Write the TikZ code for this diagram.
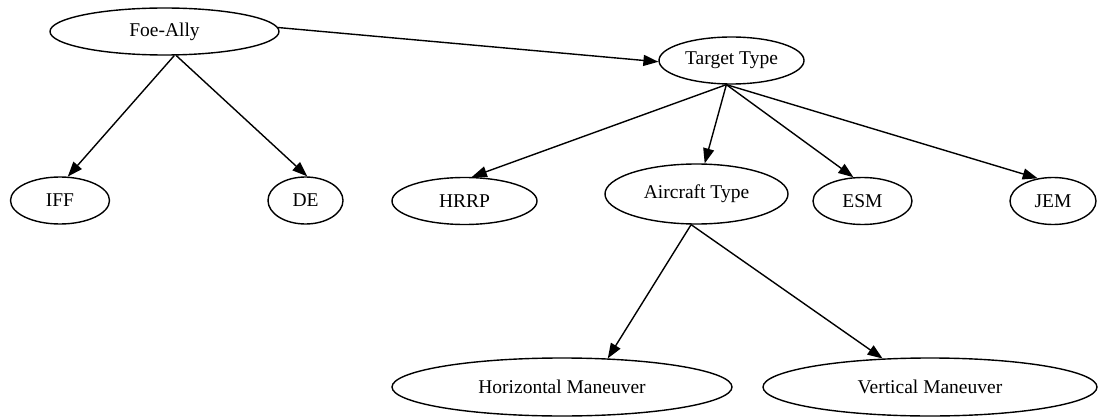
\documentclass[tikz,border=0pt]{standalone}
\usepackage{fontspec}
\setmainfont{Liberation Serif}
\usetikzlibrary{arrows.meta,shapes.geometric}

\begin{document}
\begin{tikzpicture}[x=1pt,y=-1pt,line width=1.4pt,
  feat/.style={draw,ellipse,inner sep=0pt,minimum height=47pt,
    font=\fontsize{19.5}{22}\selectfont},
  >={Triangle[length=15pt,width=11pt]}]
\useasboundingbox (0,0) rectangle (1100,417);
\node[feat,minimum width=229pt] (fa) at (164.5,31.5) {Foe-Ally};
\node[feat,minimum width=145pt] (tt) at (731.5,60.5) {Target Type};
\node[feat,minimum width=99pt] (iff) at (60,200.5) {IFF};
\node[feat,minimum width=75pt] (de) at (305.5,200.5) {DE};
\node[feat,minimum width=145pt] (hrrp) at (464.5,201) {HRRP};
\node[feat,minimum width=183pt,minimum height=60pt] (ac) at (696.5,194) {Aircraft Type};
\node[feat,minimum width=99pt] (esm) at (862.5,201) {ESM};
\node[feat,minimum width=86pt] (jem) at (1053,201) {JEM};
\node[feat,minimum width=340pt,minimum height=58pt] (hm) at (562,387) {Horizontal Maneuver};
\node[feat,minimum width=334pt,minimum height=58pt] (vm) at (930,387) {Vertical Maneuver};
\draw (fa.2) edge[->] (tt.181)
      (fa.-68) edge[->] (iff.72)
      (fa.-64) edge[->] (de.86)
      (tt.-102) edge[->] (hrrp.73)
      (tt.-102) edge[->] (ac.75)
      (tt.-102) edge[->] (esm.111)
      (tt.-102) edge[->] (jem.124)
      (ac.-100) edge[->] (hm.32)
      (ac.-100) edge[->] (vm.149);
\end{tikzpicture}
\end{document}
